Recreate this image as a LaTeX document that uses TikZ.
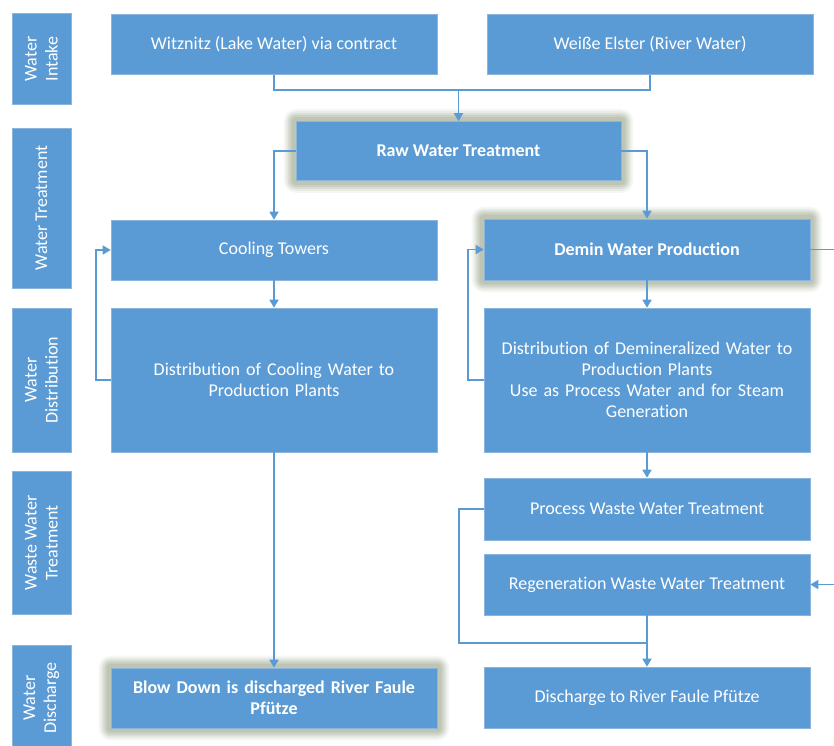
\documentclass[tikz,border=0pt]{standalone}
\usepackage{fontspec}
\setmainfont[Ligatures=NoCommon]{Carlito}
\usetikzlibrary{arrows.meta,calc,backgrounds}
\definecolor{boxblue}{HTML}{5B9BD5}
\definecolor{boxedge}{HTML}{8CB5DE}
\definecolor{glow}{HTML}{B4BCA9}
\tikzset{
  box/.style={fill=boxblue, draw=boxedge, line width=0.6pt, text=white, align=center,
    font=\fontsize{18}{21}\selectfont, inner sep=0pt},
  boldbox/.style={box, font=\fontsize{18}{21}\selectfont\bfseries},
  lane/.style={box, rotate=90, minimum height=59pt},
  flow/.style={draw=boxblue, line width=1.6pt, -{Triangle[width=9pt,length=8pt]}},
  link/.style={draw=boxblue, line width=1.6pt},
}
\begin{document}
\begin{tikzpicture}[x=1pt,y=-1pt]
\useasboundingbox (0,0) rectangle (834,745);
\clip (0,0) rectangle (834,745);

% stage labels on the left
\node[lane, minimum width=91pt]  (lintake) at (41.5,59)  {Water\\Intake};
\node[lane, minimum width=160pt] (ltreat)  at (41.5,208) {Water Treatment};
\node[lane, minimum width=144pt] (ldist)   at (41.5,380) {Water\\Distribution};
\node[lane, minimum width=143pt] (lwaste)  at (41.5,543) {Waste Water\\Treatment};
\node[lane, minimum width=106pt] (ldisch)  at (41.5,698) {Water\\Discharge};

% process boxes
\node[box, minimum width=326pt, minimum height=60pt] (witz)   at (274,44.5)  {Witznitz (Lake Water) via contract};
\node[box, minimum width=326pt, minimum height=60pt] (elster) at (650,44.5)  {Weiße Elster (River Water)};
\node[boldbox, minimum width=325pt, minimum height=59pt] (raw) at (458.5,151) {Raw Water Treatment};
\node[box, minimum width=326pt, minimum height=60pt] (cool)   at (274,250)   {Cooling Towers};
\node[boldbox, minimum width=326pt, minimum height=61pt] (demin) at (647,249.5) {Demin Water Production};
\node[box, minimum width=326pt, minimum height=144pt, text width=310pt] (cdist) at (274,380)
  {Distribution of Cooling Water to\\Production Plants};
\node[box, minimum width=326pt, minimum height=144pt, text width=318pt] (ddist) at (647,380)
  {Distribution of Demineralized Water to\\Production Plants\\Use as Process Water and for Steam\\Generation};
\node[box, minimum width=326pt, minimum height=62pt] (proc)   at (647,509)   {Process Waste Water Treatment};
\node[box, minimum width=326pt, minimum height=61pt] (regen)  at (647,584.5) {Regeneration Waste Water Treatment};
\node[box, minimum width=326pt, minimum height=61pt] (disc)   at (647,697.5) {Discharge to River Faule Pfütze};
\node[boldbox, minimum width=326pt, minimum height=60pt, text width=310pt] (blow) at (274,698)
  {Blow Down is discharged River Faule\\Pfütze};

% soft glow behind the highlighted steps
\begin{scope}[on background layer]
  \foreach \n in {raw,demin,blow}{
    \foreach \i/\o in {12/0.12,10/0.2,8/0.3,6/0.4,4/0.55}{
      \fill[glow, opacity=\o, rounded corners=\i pt]
        ($(\n.south west)+(-\i,\i)$) rectangle ($(\n.north east)+(\i,-\i)$);
    }
  }
\end{scope}

% connectors
\coordinate (join)  at (458.5,90);
\coordinate (merge) at (647,643);
\coordinate (edge)  at (850,400);

\draw[link] (witz.south) |- (join) -| (elster.south);
\draw[flow] (join) -- (raw.north);
\draw[flow] (raw.west) -| (cool.north);
\draw[flow] (raw.east) -| (demin.north);
\draw[flow] (cool.south) -- (cdist.north);
\draw[flow] (cdist.west) -- ++(-15,0) |- (cool.west);
\draw[flow] (demin.south) -- (ddist.north);
\draw[flow] (ddist.west) -- ++(-16,0) |- (demin.west);
\draw[flow] (ddist.south) -- (proc.north);
\draw[flow] (cdist.south) -- (blow.north);
\draw[link] (proc.west) -- ++(-25,0) |- (merge);
\draw[flow] (regen.south) -- (disc.north);
\draw[flow] (demin.east) -- (demin.east -| edge) -- (regen.east -| edge) -- (regen.east);
\end{tikzpicture}
\end{document}
